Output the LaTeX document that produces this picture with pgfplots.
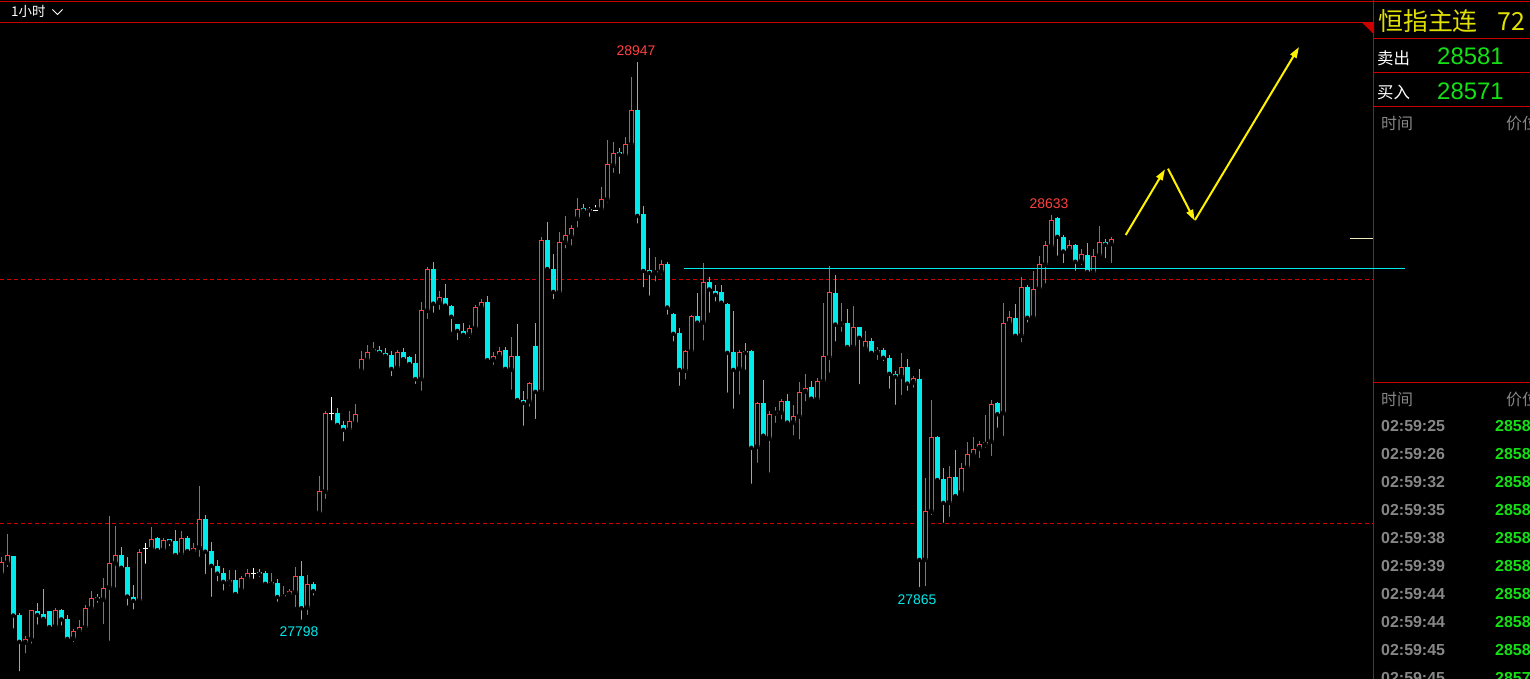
\documentclass[border=0pt]{standalone}
\usepackage{pgfplots}
\pgfplotsset{compat=1.18}
\usepackage{pgfplotstable}
\usepackage{fontspec}
\setmainfont{Liberation Sans}
\newfontfamily\cjk{Noto Sans CJK SC}
\usetikzlibrary{arrows.meta}

\definecolor{upred}{RGB}{255,64,64}
\definecolor{dncyan}{RGB}{0,235,235}
\definecolor{gridred}{RGB}{215,0,0}
\definecolor{framered}{RGB}{205,0,0}
\definecolor{quote}{RGB}{20,225,20}
\definecolor{hdr}{RGB}{225,225,0}
\definecolor{lbl}{RGB}{135,135,135}
\definecolor{pmark}{RGB}{235,235,190}

% hourly candles: index, open, high, low, close
\pgfplotstableread{
k o h l c
0 27896 27932 27889 27921
1 27919 27978 27906 27935
2 27933 27934 27780 27811
3 27812 27816 27692 27757
4 27755 27768 27729 27762
5 27762 27823 27749 27822
6 27820 27837 27788 27812
7 27814 27865 27803 27804
8 27820 27821 27785 27787
9 27788 27826 27782 27822
10 27822 27825 27786 27803
11 27804 27811 27761 27763
12 27763 27783 27752 27779
13 27778 27802 27776 27787
14 27786 27832 27778 27826
15 27825 27861 27824 27846
16 27849 27855 27833 27845
17 27843 27887 27789 27867
18 27868 28015 27755 27919
19 27918 27995 27864 27935
20 27935 27952 27901 27909
21 27910 27931 27827 27850
22 27849 27874 27819 27841
23 27841 27947 27837 27941
24 27949 27960 27913 27949
25 27947 27993 27945 27967
26 27970 27972 27942 27945
27 27945 27970 27940 27966
28 27967 27968 27949 27962
29 27964 27986 27930 27935
30 27936 27984 27930 27970
31 27970 27974 27941 27943
32 27942 27960 27940 27949
33 27950 28077 27927 28010
34 28009 28017 27892 27942
35 27943 27962 27845 27913
36 27913 27925 27877 27897
37 27898 27908 27858 27880
38 27878 27904 27868 27884
39 27884 27904 27853 27855
40 27863 27892 27862 27888
41 27886 27906 27884 27898
42 27898 27908 27882 27898
43 27901 27906 27886 27896
44 27898 27902 27874 27876
45 27874 27898 27868 27880
46 27878 27886 27835 27849
47 27848 27871 27843 27854
48 27854 27866 27850 27861
49 27858 27910 27824 27893
50 27892 27923 27798 27826
51 27827 27894 27808 27876
52 27876 27880 27848 27861
53 28021 28097 28020 28066
54 28065 28231 28046 28226
55 28226 28259 28207 28226
56 28226 28237 28198 28202
57 28202 28210 28164 28192
58 28192 28231 28186 28210
59 28205 28245 28203 28224
60 28313 28354 28304 28337
61 28335 28366 28331 28351
62 28353 28372 28350 28357
63 28356 28364 28344 28350
64 28350 28360 28340 28344
65 28346 28354 28298 28317
66 28319 28356 28311 28352
67 28352 28360 28331 28337
68 28342 28343 28323 28327
69 28329 28348 28282 28296
70 28296 28454 28268 28438
71 28436 28527 28415 28522
72 28522 28536 28428 28451
73 28453 28477 28434 28464
74 28462 28491 28442 28447
75 28446 28448 28389 28424
76 28409 28410 28372 28395
77 28395 28411 28382 28387
78 28387 28407 28376 28401
79 28400 28448 28399 28444
80 28442 28460 28440 28454
81 28454 28467 28334 28335
82 28335 28352 28321 28344
83 28342 28362 28337 28354
84 28356 28362 28309 28317
85 28315 28382 28270 28344
86 28344 28409 28251 28253
87 28253 28272 28196 28247
88 28250 28290 28235 28288
89 28364 28411 28210 28270
90 28270 28588 28266 28581
91 28581 28618 28518 28522
92 28522 28553 28456 28475
93 28473 28598 28471 28577
94 28576 28631 28560 28591
95 28588 28612 28566 28606
96 28625 28668 28603 28645
97 28647 28655 28633 28642
98 28645 28649 28625 28642
99 28642 28653 28633 28644
100 28644 28690 28640 28665
101 28664 28787 28654 28737
102 28734 28783 28715 28761
103 28762 28770 28713 28757
104 28754 28793 28748 28778
105 28777 28916 28775 28848
106 28848 28947 28611 28631
107 28635 28651 28480 28518
108 28520 28565 28463 28514
109 28513 28547 28492 28517
110 28516 28540 28506 28532
111 28532 28536 28424 28443
112 28430 28431 28369 28389
113 28391 28401 28278 28315
114 28313 28355 28291 28354
115 28352 28427 28351 28426
116 28426 28473 28410 28412
117 28412 28534 28371 28495
118 28495 28506 28428 28480
119 28477 28489 28451 28469
120 28475 28489 28451 28453
121 28450 28452 28264 28350
122 28352 28436 28231 28315
123 28317 28356 28260 28352
124 28354 28370 28311 28350
125 28354 28355 28077 28155
126 28157 28249 28120 28247
127 28247 28294 28179 28180
128 28174 28231 28100 28224
129 28225 28239 28202 28229
130 28227 28255 28209 28251
131 28251 28266 28205 28207
132 28207 28243 28176 28220
133 28219 28290 28168 28270
134 28270 28307 28246 28278
135 28280 28292 28248 28256
136 28254 28298 28252 28292
137 28291 28452 28289 28344
138 28340 28528 28305 28475
139 28473 28510 28369 28408
140 28408 28452 28389 28411
141 28411 28440 28360 28362
142 28362 28446 28358 28403
143 28403 28404 28281 28381
144 28358 28395 28352 28374
145 28374 28380 28344 28350
146 28350 28362 28331 28356
147 28356 28360 28329 28340
148 28340 28346 28272 28307
149 28307 28313 28239 28301
150 28301 28350 28259 28320
151 28320 28337 28268 28287
152 28289 28302 28274 28298
153 28296 28317 27865 27925
154 27925 28093 27867 28025
155 28024 28253 28013 28177
156 28177 28179 28085 28089
157 28091 28114 27997 28042
158 28042 28118 28009 28095
159 28095 28151 28048 28056
160 28063 28124 28062 28114
161 28114 28167 28112 28142
162 28140 28177 28138 28153
163 28153 28169 28130 28163
164 28161 28222 28151 28167
165 28168 28253 28134 28245
166 28247 28249 28192 28224
167 28226 28452 28175 28411
168 28410 28436 28401 28423
169 28421 28450 28382 28385
170 28385 28506 28367 28485
171 28485 28489 28408 28422
172 28422 28518 28421 28481
173 28481 28549 28480 28532
174 28531 28579 28488 28571
175 28568 28633 28564 28623
176 28627 28628 28545 28588
177 28588 28592 28530 28558
178 28560 28581 28557 28571
179 28571 28573 28514 28537
180 28537 28563 28526 28553
181 28551 28575 28510 28516
182 28514 28563 28513 28549
183 28549 28610 28543 28577
184 28577 28584 28540 28572
185 28573 28588 28530 28584
}\kline

\pgfplotsset{
  candle/.style n args={2}{only marks, mark=none,
    error bars/y dir=plus, error bars/y explicit, error bars/error mark=none,
    error bars/error bar style={draw=#1, line width=#2}},
  up/.style={x filter/.expression={\thisrow{c}>\thisrow{o} ? x : nan}},
  down/.style={x filter/.expression={\thisrow{c}<\thisrow{o} ? x : nan}},
  flat/.style={x filter/.expression={\thisrow{c}==\thisrow{o} ? x : nan}},
}

\begin{document}
\begin{tikzpicture}[x=1bp, y=1bp]
\useasboundingbox (0,0) rectangle (1530,679);
\fill[black] (0,0) rectangle (1530,679);

\begin{axis}[
  at={(0,0)}, anchor=south west,
  scale only axis, width=1373bp, height=657bp,
  xmin=-0.217, xmax=228.62,
  ymin=27680.7, ymax=29028.9,
  axis line style={draw=none}, ticks=none,
  clip mode=individual,
]
\draw[gridred, line width=1.3bp, dash pattern=on 4bp off 3bp]
  (axis cs:-0.217,28500) -- (axis cs:228.62,28500);
\draw[gridred, line width=1.3bp, dash pattern=on 4bp off 3bp]
  (axis cs:-0.217,28000) -- (axis cs:228.62,28000);

% wicks
\addplot[up, candle={upred}{1bp}] table[x=k, y=l, y error expr=\thisrow{h}-\thisrow{l}] {\kline};
\addplot[down, candle={dncyan}{1bp}] table[x=k, y=l, y error expr=\thisrow{h}-\thisrow{l}] {\kline};
\addplot[flat, candle={white}{1bp}] table[x=k, y=l, y error expr=\thisrow{h}-\thisrow{l}] {\kline};

% bodies
\addplot[down, candle={dncyan}{5bp}] table[x=k, y=c, y error expr=\thisrow{o}-\thisrow{c}] {\kline};
\addplot[up, candle={upred}{5bp}] table[x=k, y=o, y error expr=\thisrow{c}-\thisrow{o}] {\kline};
\addplot[up, candle={black}{3bp}] table[x=k, y expr=\thisrow{o}+2.05, y error expr={max(\thisrow{c}-\thisrow{o}-4.1,0)}] {\kline};
\addplot[flat, only marks, mark=-, mark size=2.5bp, mark options={draw=white, line width=1bp}] table[x=k, y=o] {\kline};

% extreme labels
\node[upred, font=\fontsize{14}{14}\selectfont] at (axis cs:105.78,28969) {28947};
\node[upred, font=\fontsize{14}{14}\selectfont] at (axis cs:174.6,28655) {28633};
\node[dncyan, font=\fontsize{14}{14}\selectfont] at (axis cs:49.6,27777) {27798};
\node[dncyan, font=\fontsize{14}{14}\selectfont] at (axis cs:152.6,27843) {27865};
\end{axis}

% frame lines
\draw[framered, line width=1.2bp] (0,677.7) -- (1530,677.7);
\draw[framered, line width=1.2bp] (0,656.7) -- (1374,656.7);
\fill[framered] (1361.7,656.7) -- (1374,656.7) -- (1374,644.7) -- cycle;
\draw[framered, line width=1.2bp] (1373.5,0) -- (1373.5,679);
\foreach \yy in {640.7,606.7,572.3,296.3}
  \draw[framered, line width=1.2bp] (1374,\yy) -- (1530,\yy);

% last price marker and neckline
\draw[pmark, line width=1bp] (1350,440) -- (1373,440);
\draw[dncyan, line width=1.8bp] (684,410.5) -- (1405,410.5);

% forecast arrows
\begin{scope}[yellow, line width=2bp, -{Triangle[length=11bp, width=7bp]}]
  \draw (1125.7,444) -- (1165,509.7);
  \draw (1168,510.3) -- (1194.7,458.3);
  \draw (1195,459) -- (1299,632);
\end{scope}

% period selector
\node[white, anchor=west, inner sep=0, font=\cjk\fontsize{13.5}{13.5}\selectfont] at (11,667.5) {1小时};
\draw[white, line width=1bp] (52.5,669.5) -- (57.5,664.5) -- (62.5,669.5);

% quote panel
\node[hdr, anchor=west, inner sep=0, font=\cjk\fontsize{25}{25}\selectfont] at (1378,658) {恒指主连};
\node[hdr, anchor=west, inner sep=0, font=\cjk\fontsize{25}{25}\selectfont] at (1497,658) {72};
\node[white, anchor=west, inner sep=0, font=\cjk\fontsize{16.5}{16.5}\selectfont] at (1377,620.5) {卖出};
\node[white, anchor=west, inner sep=0, font=\cjk\fontsize{16.5}{16.5}\selectfont] at (1377,586.5) {买入};
\node[quote, anchor=west, inner sep=0, font=\fontsize{24}{24}\selectfont] at (1437,623) {28581};
\node[quote, anchor=west, inner sep=0, font=\fontsize{24}{24}\selectfont] at (1437,588) {28571};
\node[lbl, anchor=west, inner sep=0, font=\cjk\fontsize{16}{16}\selectfont] at (1381,555.5) {时间};
\node[lbl, anchor=west, inner sep=0, font=\cjk\fontsize{16}{16}\selectfont] at (1506,555.5) {价位};
\node[lbl, anchor=west, inner sep=0, font=\cjk\fontsize{16}{16}\selectfont] at (1381,279.5) {时间};
\node[lbl, anchor=west, inner sep=0, font=\cjk\fontsize{16}{16}\selectfont] at (1506,279.5) {价位};

\foreach \t/\p/\yy in {25/2858/253, 26/2858/225, 32/2858/197, 35/2858/169,
    38/2858/141, 39/2858/113, 44/2858/85, 44/2858/57, 45/2858/29, 45/2857/1.3}{
  \node[lbl, anchor=west, inner sep=0, font=\bfseries\fontsize{16}{16}\selectfont] at (1381,\yy) {02:59:\t};
  \node[quote, anchor=west, inner sep=0, font=\bfseries\fontsize{16}{16}\selectfont] at (1495,\yy) {\p};
}
\end{tikzpicture}
\end{document}
